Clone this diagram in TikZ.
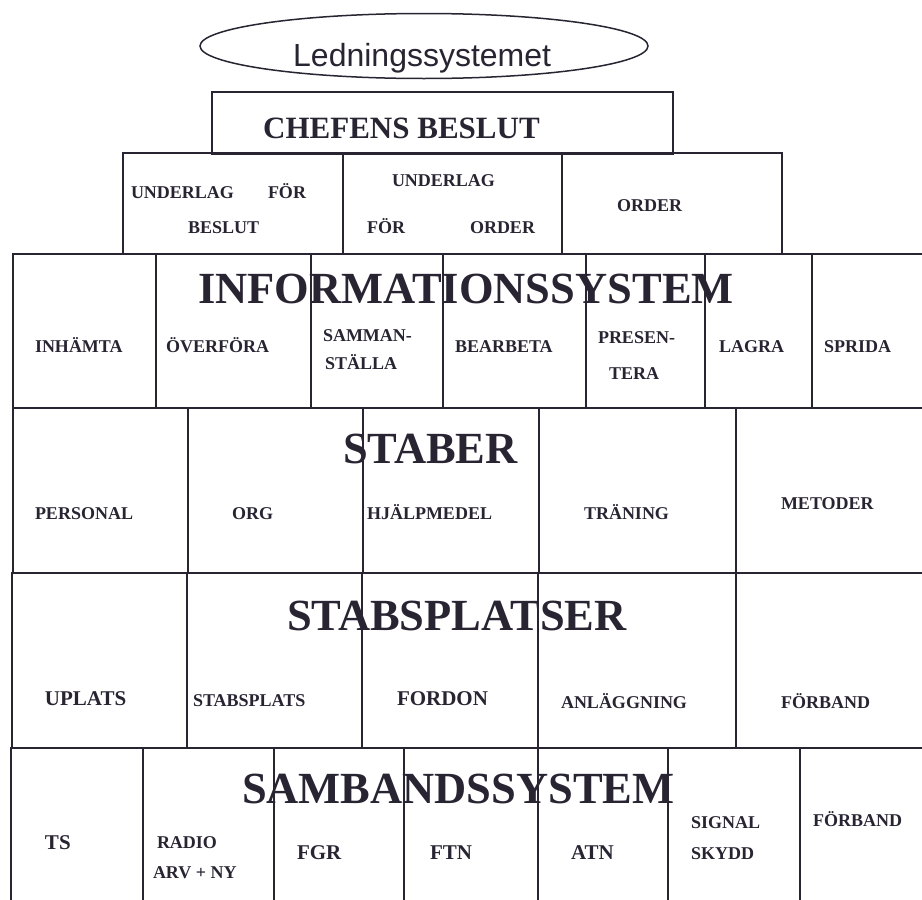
\documentclass[tikz,border=0pt]{standalone}
\usepackage{fontspec}
\setmainfont{Liberation Serif}
\newfontfamily\lsans{Liberation Sans}
\usetikzlibrary{shapes.geometric}
\definecolor{ink}{RGB}{40,36,50}
\begin{document}
\begin{tikzpicture}[x=1pt,y=-1pt,
  cell/.style={draw=ink, line width=1.6pt},
  lbl/.style={anchor=base west, inner sep=0pt, outer sep=0pt, text=ink, font=\bfseries\fontsize{18}{20}\selectfont},
  lblb/.style={lbl, font=\bfseries\fontsize{21}{24}\selectfont},
  big/.style={anchor=base west, inner sep=0pt, outer sep=0pt, text=ink, font=\bfseries\fontsize{44.5}{50}\selectfont}]
\useasboundingbox (0,0) rectangle (922,900);
\clip (0,0) rectangle (922,900);
\fill[white] (0,0) rectangle (922,900);
% title ellipse
\node[draw=ink, line width=1.5pt, ellipse, minimum width=448pt, minimum height=65pt, inner sep=0pt] (ell) at (424,46) {};
\node[anchor=base west, inner sep=0pt, text=ink, font=\lsans\fontsize{32}{36}\selectfont] (title) at (293,66) {Ledningssystemet};
% chefens beslut
\draw[cell] (212,92) rectangle (673,154);
\node[anchor=base west, inner sep=0pt, text=ink, font=\bfseries\fontsize{31}{36}\selectfont] (chef) at (263,138) {CHEFENS BESLUT};
% underlag row
\foreach \a/\b in {123/343,343/562,562/782} \draw[cell] (\a,153) rectangle (\b,254);
\node[lbl] (u1a) at (131,198) {UNDERLAG};
\node[lbl] (u1b) at (268,198) {FÖR};
\node[lbl] (u1c) at (188,233) {BESLUT};
\node[lbl] (u2a) at (392,186) {UNDERLAG};
\node[lbl] (u2b) at (367,233) {FÖR};
\node[lbl] (u2c) at (470,233) {ORDER};
\node[lbl] (u3) at (617,211) {ORDER};
% informationssystem row
\foreach \a/\b in {13/156,156/311,311/443,443/586,586/705,705/812,812/935} \draw[cell] (\a,254) rectangle (\b,408);
\node[lbl] (i1) at (35,352) {INHÄMTA};
\node[lbl] (i2) at (166,352) {ÖVERFÖRA};
\node[lbl] (i3a) at (323,341) {SAMMAN-};
\node[lbl] (i3b) at (325,369) {STÄLLA};
\node[lbl] (i4) at (455,352) {BEARBETA};
\node[lbl] (i5a) at (598,343) {PRESEN-};
\node[lbl] (i5b) at (609,379) {TERA};
\node[lbl] (i6) at (719,352) {LAGRA};
\node[lbl] (i7) at (824,352) {SPRIDA};
\node[big] (infos) at (198,303) {INFORMATIONSSYSTEM};
% staber row
\foreach \a/\b in {13/188,188/363,363/539,539/736,736/935} \draw[cell] (\a,408) rectangle (\b,573);
\node[lbl] (s1) at (35,519) {PERSONAL};
\node[lbl] (s2) at (232,519) {ORG};
\node[lbl] (s3) at (367,519) {HJÄLPMEDEL};
\node[lbl] (s4) at (584,519) {TRÄNING};
\node[lbl] (s5) at (781,509) {METODER};
\node[big] (staber) at (343,463) {STABER};
% stabsplatser row
\foreach \a/\b in {12/187,187/362,362/538,538/736,736/935} \draw[cell] (\a,573) rectangle (\b,748);
\node[lblb] (p1) at (45,705) {UPLATS};
\node[lbl] (p2) at (193,706) {STABSPLATS};
\node[lblb] (p3) at (397,705) {FORDON};
\node[lbl] (p4) at (561,708) {ANLÄGGNING};
\node[lbl] (p5) at (781,708) {FÖRBAND};
\node[big] (stabspl) at (287,630) {STABSPLATSER};
% sambandssystem row
\foreach \a/\b in {11/143,143/274,274/404,404/538,538/668,668/800,800/935} \draw[cell] (\a,748) rectangle (\b,920);
\node[lblb] (b1) at (45,849) {TS};
\node[lbl] (b2a) at (157,848) {RADIO};
\node[lbl] (b2b) at (153,878) {ARV + NY};
\node[lblb] (b3) at (297,859) {FGR};
\node[lblb] (b4) at (430,859) {FTN};
\node[lblb] (b5) at (571,859) {ATN};
\node[lbl] (b6a) at (691,828) {SIGNAL};
\node[lbl] (b6b) at (691,859) {SKYDD};
\node[lbl] (b7) at (813,826) {FÖRBAND};
\node[big] (samb) at (242,803) {SAMBANDSSYSTEM};
\end{tikzpicture}
\end{document}
